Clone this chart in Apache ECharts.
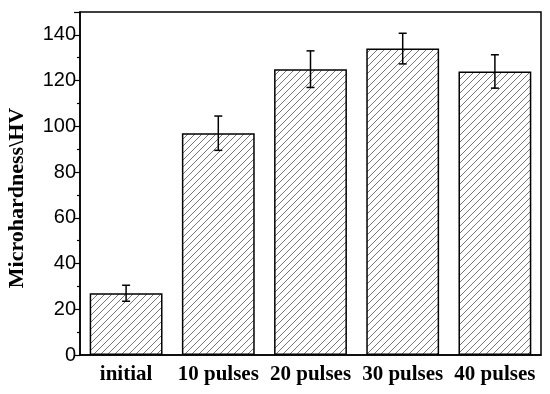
<!DOCTYPE html>
<html><head><meta charset="utf-8">
<script src="https://cdn.jsdelivr.net/npm/echarts@6/dist/echarts.min.js"></script>
<style>html,body{margin:0;padding:0;background:#fff}#c{width:550px;height:394px}</style>
</head><body><div id="c"></div>
<script>
const categories = ['initial', '10 pulses', '20 pulses', '30 pulses', '40 pulses'];
const values = [27, 97, 125, 134, 124];
const errors = [3.5, 7.5, 8, 6.7, 7.3];
const yTicks = [0, 20, 40, 60, 80, 100, 120, 140];

function hatch() {
  const s = 7;
  const c = document.createElement('canvas');
  c.width = s; c.height = s;
  const g = c.getContext('2d');
  g.fillStyle = '#fff'; g.fillRect(0, 0, s, s);
  g.strokeStyle = '#666'; g.lineWidth = 0.9;
  g.beginPath();
  for (let k = -1; k <= 1; k++) {
    g.moveTo(k * s, s); g.lineTo(k * s + s, 0);
  }
  g.stroke();
  return c;
}

const chart = echarts.init(document.getElementById('c'), null, {renderer: 'canvas'});
chart.setOption({
  animation: false,
  backgroundColor: '#fff',
  grid: {left: 80, right: 9, top: 12, bottom: 39, show: true, borderColor: '#000', borderWidth: 1.5, backgroundColor: 'transparent'},
  graphic: [{
    type: 'text', x: 17, y: 198, rotation: Math.PI / 2,
    style: {text: 'Microhardness\\HV', font: 'bold 22px "Liberation Serif"', fill: '#000', align: 'center', verticalAlign: 'middle'}
  }],
  xAxis: {
    type: 'category', data: categories,
    axisLine: {lineStyle: {color: '#000', width: 1.5}},
    axisTick: {show: false},
    axisLabel: {color: '#000', fontFamily: 'Liberation Serif', fontWeight: 'bold', fontSize: 21, margin: 9, interval: 0}
  },
  yAxis: {
    type: 'value', min: 0, max: 150, interval: 20,
    axisLine: {show: true, lineStyle: {color: '#000', width: 1.5}},
    axisTick: {show: true, inside: false, length: 6, lineStyle: {color: '#000', width: 1.2}},
    minorTick: {show: true, splitNumber: 2, length: 3, lineStyle: {color: '#000', width: 1.2}},
    splitLine: {show: false},
    axisLabel: {color: '#000', fontFamily: 'Liberation Sans', fontSize: 20, margin: 4, showMaxLabel: false,
      formatter: v => yTicks.includes(v) ? String(v) : ''}
  },
  series: [{
    type: 'bar', data: values, barCategoryGap: '21%',
    itemStyle: {color: {image: hatch(), repeat: 'repeat'}, borderColor: '#000', borderWidth: 1.5}
  }, {
    type: 'custom',
    data: values.map((v, i) => [i, v - errors[i], v + errors[i]]),
    renderItem: function (params, api) {
      const lo = api.coord([api.value(0), api.value(1)]);
      const hi = api.coord([api.value(0), api.value(2)]);
      const w = 4;
      const st = {stroke: '#000', lineWidth: 1.5};
      return {type: 'group', children: [
        {type: 'line', shape: {x1: lo[0], y1: lo[1], x2: hi[0], y2: hi[1]}, style: st},
        {type: 'line', shape: {x1: lo[0] - w, y1: lo[1], x2: lo[0] + w, y2: lo[1]}, style: st},
        {type: 'line', shape: {x1: hi[0] - w, y1: hi[1], x2: hi[0] + w, y2: hi[1]}, style: st}
      ]};
    },
    z: 10
  }]
});
</script></body></html>
